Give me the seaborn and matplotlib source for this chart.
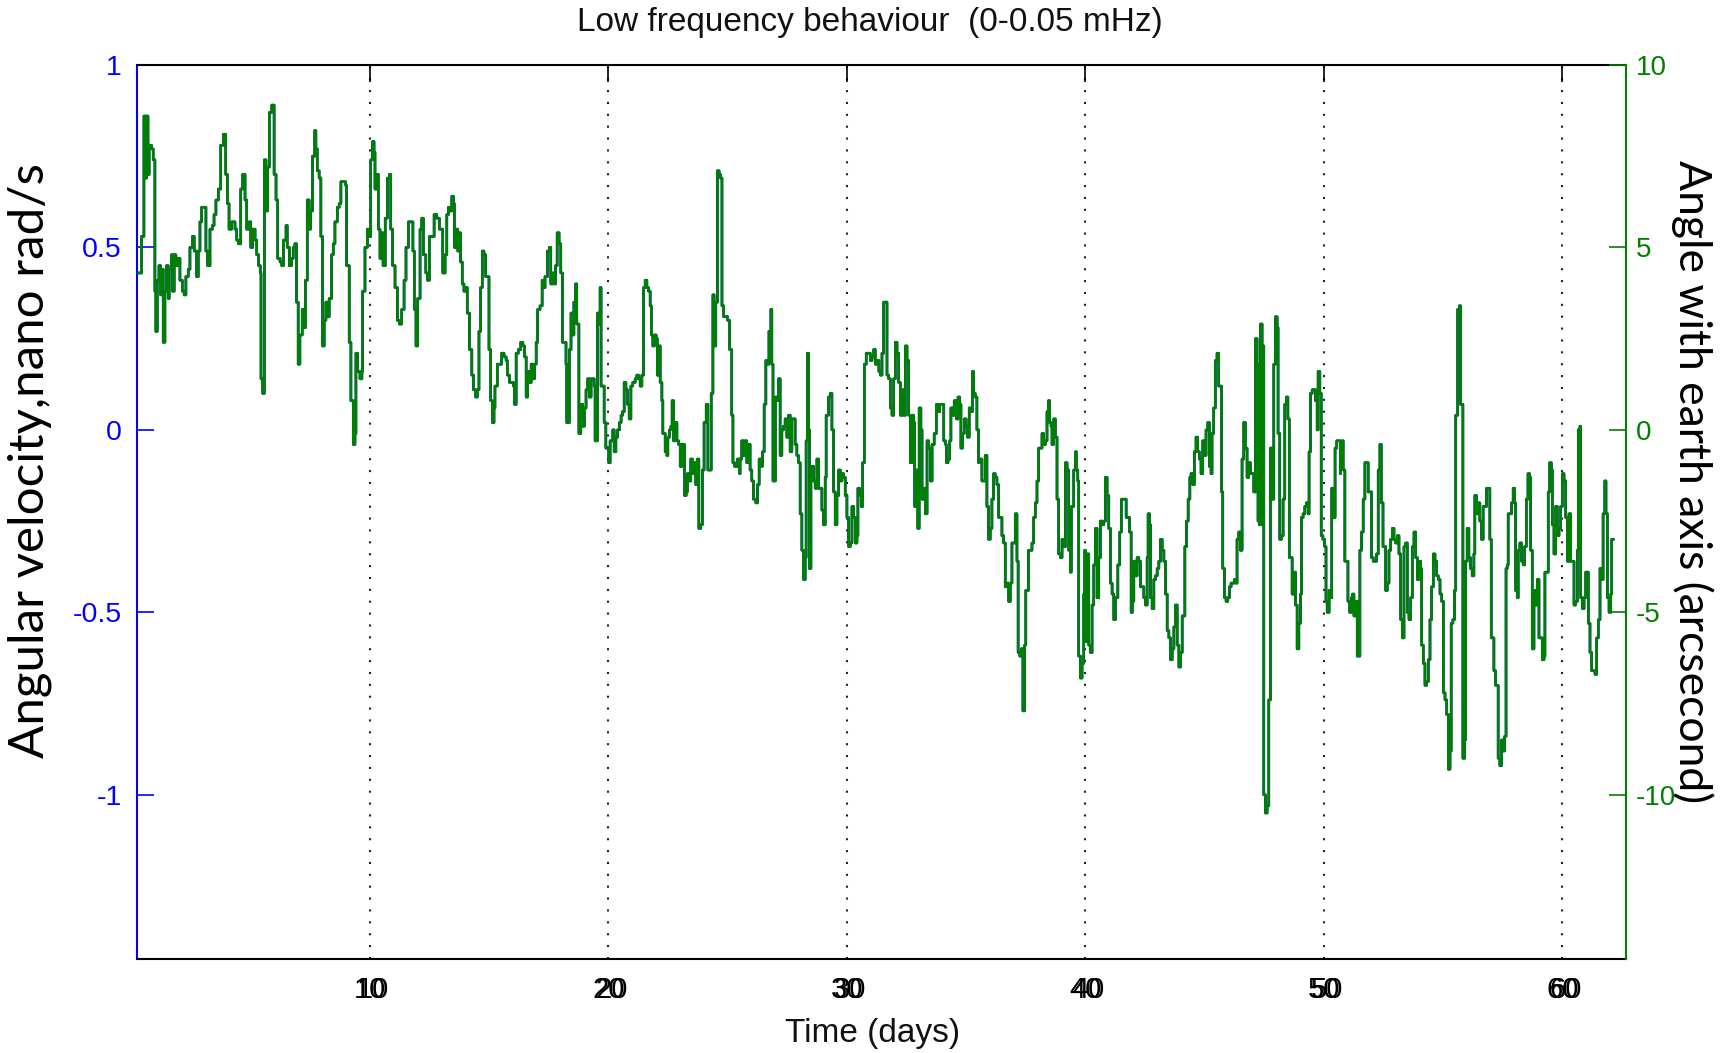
import matplotlib
matplotlib.use("Agg")
import matplotlib.pyplot as plt
import matplotlib.transforms as mtransforms
import seaborn as sns
import pandas as pd

# ---- data (time in days, angular velocity in nano rad/s) ----
days = [
    0.24, 0.28, 0.42, 0.52, 0.58, 0.63, 0.69, 0.74, 0.84, 0.91, 0.98, 1.02, 1.08, 1.15, 1.22, 1.26,
    1.33, 1.40, 1.47, 1.54, 1.58, 1.68, 1.72, 1.79, 1.86, 1.93, 2.03, 2.13, 2.21, 2.28, 2.38, 2.45,
    2.55, 2.63, 2.73, 2.80, 2.87, 2.94, 3.04, 3.12, 3.19, 3.29, 3.39, 3.46, 3.54, 3.64, 3.74, 3.85,
    3.95, 4.02, 4.09, 4.20, 4.34, 4.41, 4.48, 4.58, 4.66, 4.76, 4.83, 4.94, 5.00, 5.08, 5.18, 5.25,
    5.33, 5.40, 5.43, 5.50, 5.57, 5.64, 5.71, 5.78, 5.88, 5.98, 6.06, 6.13, 6.23, 6.30, 6.37, 6.48,
    6.53, 6.62,
    6.71, 6.78, 6.85, 6.92, 6.99, 7.06, 7.16, 7.23, 7.29, 7.37, 7.45, 7.51, 7.59, 7.68, 7.73, 7.79,
    7.87, 7.94, 8.01, 8.08, 8.15, 8.22, 8.29, 8.39, 8.46, 8.53, 8.63, 8.71, 8.78, 8.88, 8.98, 9.02,
    9.13, 9.20, 9.30, 9.37, 9.41, 9.48, 9.58, 9.66, 9.69, 9.79, 9.89, 9.97, 10.03, 10.10, 10.17, 10.21,
    10.28, 10.35, 10.42, 10.48, 10.55, 10.64, 10.73, 10.81, 10.87, 10.95, 11.05, 11.15, 11.23, 11.33,
    11.43, 11.51, 11.61, 11.71, 11.80, 11.86, 11.93, 12.00, 12.10, 12.17, 12.24, 12.34, 12.41, 12.49,
    12.59, 12.69, 12.80, 12.91,
    12.98, 13.05, 13.15, 13.22, 13.29, 13.36, 13.43, 13.50, 13.54, 13.61, 13.68, 13.73, 13.80, 13.87,
    13.94, 14.01, 14.08, 14.17, 14.27, 14.34, 14.43, 14.50, 14.57, 14.64, 14.71, 14.78, 14.85, 14.92,
    14.99, 15.06, 15.13, 15.20, 15.24, 15.34, 15.42, 15.52, 15.62, 15.71, 15.76, 15.85, 15.94, 16.01,
    16.06, 16.13, 16.22, 16.32, 16.41, 16.48, 16.55, 16.61, 16.69, 16.76, 16.83, 16.90, 16.97, 17.03,
    17.13, 17.22, 17.27, 17.34, 17.44, 17.52, 17.58, 17.66, 17.72, 17.78, 17.85, 17.93, 18.00, 18.07,
    18.15, 18.22, 18.25, 18.32, 18.36, 18.43, 18.50, 18.55, 18.62, 18.67, 18.74, 18.76, 18.84, 18.92,
    18.99, 19.06, 19.13, 19.20,
    19.23, 19.27, 19.34, 19.40, 19.44, 19.51, 19.54, 19.61, 19.65, 19.69, 19.76, 19.82, 19.89, 19.97,
    20.01, 20.07, 20.14, 20.18, 20.24, 20.31, 20.38, 20.46, 20.53, 20.59, 20.66, 20.73, 20.80, 20.87,
    20.94, 21.02, 21.12, 21.19, 21.26, 21.33, 21.40, 21.47, 21.54, 21.61, 21.68, 21.75, 21.80, 21.86,
    21.93, 22.00, 22.05, 22.11, 22.17, 22.24, 22.28, 22.38, 22.45, 22.49, 22.56, 22.62, 22.67, 22.73,
    22.80, 22.87, 22.94, 23.01, 23.08, 23.15, 23.19, 23.26, 23.31, 23.38, 23.45, 23.52, 23.59, 23.66,
    23.73, 23.79, 23.87, 23.94, 24.01, 24.10, 24.17, 24.24, 24.31, 24.38, 24.43, 24.50, 24.57, 24.64,
    24.70, 24.76, 24.83, 24.90, 25.00, 25.08, 25.17, 25.22, 25.29, 25.36, 25.41, 25.50,
    25.52, 25.59, 25.66, 25.73, 25.80, 25.87, 25.94, 26.01, 26.08, 26.18, 26.25, 26.32, 26.39, 26.46,
    26.53, 26.60, 26.67, 26.73, 26.81, 26.85, 26.90, 26.97, 27.00, 27.06, 27.13, 27.20, 27.27, 27.34,
    27.41, 27.48, 27.55, 27.62, 27.69, 27.76, 27.83, 27.90, 27.97, 28.04, 28.11, 28.18, 28.25, 28.29,
    28.34, 28.39, 28.43, 28.49, 28.53, 28.60, 28.67, 28.74, 28.81, 28.88, 28.95, 29.02, 29.09, 29.13,
    29.23, 29.30, 29.37, 29.44, 29.51, 29.58, 29.65, 29.72, 29.79, 29.86, 29.93, 30.00, 30.07, 30.14,
    30.21, 30.28, 30.35, 30.42, 30.46, 30.53, 30.60, 30.66, 30.73, 30.81, 30.90, 30.98, 31.05, 31.12,
    31.19, 31.27, 31.34, 31.40, 31.47, 31.54, 31.61, 31.68, 31.75,
    31.82, 31.89, 31.96, 32.03, 32.10, 32.17, 32.24, 32.31, 32.38, 32.45, 32.52, 32.59, 32.66, 32.73,
    32.80, 32.84, 32.91, 32.97, 33.03, 33.10, 33.15, 33.22, 33.29, 33.36, 33.43, 33.50, 33.57, 33.66,
    33.75, 33.82, 33.89, 33.99, 34.06, 34.13, 34.17, 34.24, 34.31, 34.36, 34.45, 34.50, 34.59, 34.66,
    34.73, 34.78, 34.85, 34.92, 35.00, 35.06, 35.13, 35.20, 35.26, 35.31, 35.38, 35.45, 35.52, 35.59,
    35.66, 35.73, 35.80, 35.87, 35.94, 36.01, 36.08, 36.15, 36.22, 36.29, 36.36, 36.43, 36.50, 36.57,
    36.64, 36.71, 36.78, 36.85, 36.92, 36.99, 37.06, 37.13, 37.18, 37.25, 37.31, 37.38, 37.45, 37.50,
    37.57, 37.61, 37.69, 37.76, 37.83, 37.90, 37.97, 38.04,
    38.11, 38.18, 38.25, 38.32, 38.39, 38.45, 38.50, 38.56, 38.60, 38.67, 38.74, 38.81, 38.88, 38.95,
    39.02, 39.09, 39.16, 39.23, 39.30, 39.37, 39.41, 39.48, 39.51, 39.58, 39.62, 39.68, 39.72, 39.79,
    39.86, 39.93, 39.97, 40.00, 40.07, 40.14, 40.21, 40.28, 40.35, 40.42, 40.49, 40.56, 40.63, 40.70,
    40.77, 40.84, 40.91, 40.98, 41.05, 41.12, 41.19, 41.26, 41.36, 41.44, 41.51, 41.61, 41.71, 41.78,
    41.85, 41.92, 41.97, 42.03, 42.10, 42.17, 42.24, 42.31, 42.38, 42.45, 42.52, 42.59, 42.63, 42.69,
    42.73, 42.80, 42.87, 42.94, 43.01, 43.08, 43.15, 43.22, 43.29, 43.36, 43.43, 43.50, 43.57, 43.64,
    43.71, 43.78, 43.85, 43.92, 43.99, 44.06, 44.13, 44.17, 44.24, 44.31, 44.38,
    44.43, 44.50, 44.57, 44.64, 44.71, 44.78, 44.85, 44.92, 44.99, 45.06, 45.13, 45.20, 45.27, 45.31,
    45.38, 45.45, 45.52, 45.59, 45.66, 45.71, 45.76, 45.83, 45.90, 45.97, 46.04, 46.11, 46.18, 46.25,
    46.32, 46.36, 46.43, 46.50, 46.57, 46.64, 46.71, 46.78, 46.85, 46.92, 46.99, 47.06, 47.13, 47.20,
    47.24, 47.29, 47.34, 47.41, 47.45, 47.48, 47.55, 47.62, 47.69, 47.73, 47.76, 47.83, 47.90, 47.97,
    48.04, 48.08, 48.15, 48.22, 48.29, 48.36, 48.43, 48.49, 48.55, 48.60, 48.67, 48.74, 48.81, 48.88,
    48.95, 49.02, 49.06, 49.13, 49.20, 49.27, 49.34, 49.38, 49.44, 49.51, 49.58, 49.65, 49.72, 49.76,
    49.83, 49.89, 49.96, 50.03, 50.09, 50.14, 50.22, 50.29, 50.33, 50.40, 50.47, 50.54, 50.61, 50.69,
    50.70, 50.77, 50.81, 50.88, 50.95, 51.01, 51.08, 51.15, 51.20, 51.26, 51.33, 51.40, 51.47, 51.51,
    51.58, 51.65, 51.72, 51.79, 51.86, 51.93, 52.00, 52.07, 52.14, 52.21, 52.28, 52.35, 52.41, 52.48,
    52.55, 52.59, 52.66, 52.73, 52.80, 52.87, 52.94, 53.01, 53.08, 53.15, 53.22, 53.29, 53.36, 53.43,
    53.50, 53.57, 53.64, 53.71, 53.78, 53.85, 53.92, 53.99, 54.06, 54.10, 54.17, 54.24, 54.31, 54.38,
    54.45, 54.52, 54.59, 54.66, 54.73, 54.80, 54.87, 54.94, 55.01, 55.08, 55.15, 55.22, 55.29, 55.34,
    55.41, 55.48, 55.53, 55.61, 55.68, 55.73, 55.80, 55.83, 55.90, 55.94, 56.01, 56.08, 56.15, 56.22,
    56.29, 56.33, 56.40, 56.47, 56.54, 56.61, 56.68, 56.75, 56.82, 56.89, 56.96,
    57.02, 57.09, 57.13, 57.20, 57.27, 57.31, 57.38, 57.45, 57.52, 57.58, 57.64, 57.69, 57.73, 57.80,
    57.87, 57.94, 58.00, 58.04, 58.11, 58.15, 58.22, 58.29, 58.36, 58.42, 58.49, 58.56, 58.63, 58.67,
    58.74, 58.81, 58.88, 58.95, 59.02, 59.09, 59.16, 59.23, 59.27, 59.34, 59.41, 59.47, 59.54, 59.58,
    59.65, 59.72, 59.79, 59.86, 59.93, 60.00, 60.07, 60.14, 60.21, 60.28, 60.35, 60.42, 60.49, 60.56,
    60.63, 60.67, 60.74, 60.77, 60.84, 60.91, 60.98, 61.05, 61.09, 61.16, 61.23, 61.30, 61.37, 61.44,
    61.51, 61.58, 61.64, 61.71, 61.78, 61.83, 61.89, 61.96, 62.03, 62.07, 62.15,
]

velocity = [
    0.43, 0.43, 0.53, 0.86, 0.69, 0.86, 0.70, 0.78, 0.77, 0.74, 0.38, 0.27, 0.41, 0.45, 0.37, 0.44,
    0.24, 0.38, 0.45, 0.36, 0.44, 0.48, 0.38, 0.48, 0.45, 0.47, 0.41, 0.38, 0.37, 0.42, 0.44, 0.50,
    0.53, 0.49, 0.42, 0.49, 0.57, 0.61, 0.61, 0.49, 0.45, 0.55, 0.56, 0.59, 0.63, 0.66, 0.78, 0.81,
    0.70, 0.62, 0.55, 0.57, 0.55, 0.52, 0.51, 0.66, 0.70, 0.63, 0.55, 0.57, 0.50, 0.55, 0.52, 0.48,
    0.45, 0.43, 0.14, 0.10, 0.74, 0.60, 0.72, 0.87, 0.89, 0.70, 0.63, 0.47, 0.46, 0.45, 0.52, 0.56,
    0.50, 0.45,
    0.47, 0.50, 0.51, 0.35, 0.18, 0.26, 0.33, 0.28, 0.41, 0.63, 0.55, 0.60, 0.75, 0.82, 0.77, 0.71,
    0.69, 0.53, 0.23, 0.30, 0.35, 0.31, 0.36, 0.48, 0.51, 0.57, 0.61, 0.62, 0.68, 0.68, 0.67, 0.45,
    0.24, 0.08, -0.04, -0.01, 0.21, 0.16, 0.14, 0.16, 0.38, 0.50, 0.55, 0.53, 0.74, 0.79, 0.76, 0.66,
    0.70, 0.55, 0.47, 0.54, 0.45, 0.58, 0.69, 0.70, 0.55, 0.45, 0.39, 0.30, 0.29, 0.33,
    0.41, 0.50, 0.57, 0.57, 0.49, 0.33, 0.23, 0.36, 0.55, 0.58, 0.48, 0.43, 0.41, 0.53,
    0.53, 0.59, 0.58, 0.55,
    0.55, 0.43, 0.48, 0.59, 0.61, 0.60, 0.64, 0.62, 0.50, 0.55, 0.49, 0.54, 0.46, 0.40,
    0.38, 0.39, 0.32, 0.22, 0.15, 0.11, 0.09, 0.11, 0.27, 0.39, 0.49, 0.48, 0.42, 0.42,
    0.22, 0.08, 0.02, 0.06, 0.12, 0.18, 0.18, 0.21, 0.20, 0.19, 0.15, 0.13, 0.13, 0.12,
    0.07, 0.21, 0.22, 0.24, 0.23, 0.20, 0.09, 0.16, 0.13, 0.18, 0.14, 0.18, 0.24, 0.33,
    0.34, 0.41, 0.39, 0.42, 0.49, 0.50, 0.40, 0.43, 0.40, 0.45, 0.54, 0.51, 0.43, 0.24,
    0.24, 0.18, 0.02, 0.02, 0.22, 0.32, 0.26, 0.35, 0.40, 0.29, 0.29, -0.01, 0.07, 0.01,
    0.06, 0.11, 0.14, 0.09,
    0.09, 0.14, 0.14, 0.12, -0.03, -0.03, 0.32, 0.29, 0.39, 0.12, 0.12, 0.02, -0.05, -0.05,
    -0.09, -0.03, -0.03, 0.00, -0.06, -0.02, 0.00, 0.02, 0.04, 0.05, 0.13, 0.11, 0.07, 0.03,
    0.12, 0.13, 0.14, 0.15, 0.14, 0.12, 0.15, 0.39, 0.41, 0.39, 0.38, 0.34, 0.26, 0.23,
    0.26, 0.25, 0.15, 0.23, 0.13, 0.08, -0.01, -0.06, -0.07, -0.02, 0.00, 0.01, 0.08, -0.03,
    0.02, -0.03, -0.04, -0.10, -0.04, -0.04, -0.18, -0.17, -0.12, -0.14, -0.08, -0.12, -0.09, -0.15,
    -0.08, -0.27, -0.26, -0.11, 0.02, 0.07, -0.11, -0.11, 0.10, 0.37, 0.23, 0.35, 0.71, 0.70,
    0.69, 0.34, 0.31, 0.31, 0.30, 0.22, 0.04, -0.09, -0.10, -0.10, -0.08, -0.12,
    -0.08, -0.03, -0.07, -0.03, -0.09, -0.04, -0.11, -0.14, -0.19, -0.20, -0.15, -0.08, -0.10, -0.06,
    0.07, 0.19, 0.18, 0.27, 0.33, 0.18, -0.14, -0.14, 0.09, 0.08, 0.14, -0.07, 0.00, 0.01,
    0.03, -0.02, 0.04, -0.06, 0.03, 0.03, -0.04, -0.07, -0.09, -0.23, -0.33, -0.41, -0.35, -0.03,
    0.21, 0.00, -0.38, -0.14, -0.10, -0.14, -0.16, -0.08, -0.16, -0.16, -0.22, -0.26, -0.13, 0.04,
    0.09, 0.10, 0.00, -0.17, -0.26, -0.18, -0.11, -0.14, -0.12, -0.13, -0.18, -0.24, -0.32, -0.31,
    -0.21, -0.24, -0.31, -0.29, -0.16, -0.18, -0.21, -0.09, 0.18, 0.21, 0.21, 0.19, 0.20, 0.22,
    0.18, 0.19, 0.16, 0.15, 0.21, 0.35, 0.35, 0.15, 0.14,
    0.06, 0.04, 0.14, 0.24, 0.21, 0.13, 0.04, 0.11, 0.04, 0.23, 0.19, 0.04, -0.09, 0.04,
    0.02, -0.21, -0.11, -0.27, 0.06, 0.00, -0.19, -0.16, -0.23, -0.03, -0.05, -0.14, -0.04, -0.01,
    0.07, 0.05, 0.07, 0.07, -0.03, -0.04, -0.09, -0.08, -0.03, 0.06, 0.04, 0.08, 0.03, 0.09,
    0.07, -0.05, -0.01, 0.03, 0.01, -0.02, 0.06, 0.05, 0.16, 0.10, 0.09, 0.00, -0.09, -0.08,
    -0.14, -0.14, -0.07, -0.21, -0.30, -0.27, -0.19, -0.12, -0.13, -0.15, -0.24, -0.24, -0.29, -0.31,
    -0.43, -0.42, -0.47, -0.42, -0.31, -0.31, -0.23, -0.36, -0.61, -0.62, -0.60, -0.77, -0.59, -0.44,
    -0.44, -0.33, -0.33, -0.31, -0.24, -0.20, -0.14, -0.05,
    -0.05, -0.01, -0.04, -0.03, 0.05, 0.08, 0.02, 0.01, -0.04, 0.03, -0.02, -0.19, -0.34, -0.35,
    -0.30, -0.32, -0.09, -0.11, -0.33, -0.39, -0.21, -0.21, -0.11, -0.06, -0.11, -0.14, -0.62, -0.68,
    -0.64, -0.45, -0.33, -0.58, -0.34, -0.59, -0.61, -0.48, -0.37, -0.27, -0.46, -0.35, -0.25, -0.26,
    -0.25, -0.13, -0.18, -0.27, -0.42, -0.45, -0.52, -0.46, -0.37, -0.28, -0.19, -0.19, -0.24, -0.24,
    -0.28, -0.50, -0.47, -0.36, -0.40, -0.35, -0.36, -0.43, -0.43, -0.46, -0.48, -0.35, -0.23, -0.26,
    -0.46, -0.49, -0.41, -0.40, -0.38, -0.36, -0.30, -0.33, -0.36, -0.45, -0.55, -0.57, -0.63, -0.60,
    -0.54, -0.48, -0.59, -0.65, -0.61, -0.51, -0.51, -0.32, -0.25, -0.19, -0.13,
    -0.12, -0.15, -0.06, -0.02, -0.06, -0.08, -0.12, -0.03, -0.07, 0.00, 0.02, -0.10, -0.12, -0.01,
    0.06, 0.19, 0.21, 0.12, 0.12, -0.17, -0.38, -0.46, -0.47, -0.46, -0.43, -0.42, -0.42, -0.41,
    -0.42, -0.30, -0.28, -0.33, -0.08, 0.02, -0.05, -0.13, -0.09, -0.12, -0.12, -0.17, 0.25, 0.18,
    -0.25, -0.26, 0.29, -0.26, 0.23, -1.00, -1.05, -1.03, -0.74, -0.74, -0.05, -0.19, 0.18, 0.31,
    0.28, -0.01, -0.30, -0.29, -0.19, 0.07, 0.09, 0.03, -0.35, -0.35, -0.45, -0.39, -0.48, -0.60,
    -0.53, -0.45, -0.24, -0.23, -0.21, -0.20, -0.23, -0.06, 0.10, 0.11, 0.11, 0.08, 0.00, 0.16,
    0.10, -0.29, -0.30, -0.32, -0.47, -0.50, -0.44, -0.46, -0.16, -0.24, -0.05, -0.03, -0.03, -0.12,
    -0.04, -0.03, -0.11, -0.36, -0.36, -0.47, -0.50, -0.46, -0.45, -0.51, -0.47, -0.62, -0.62, -0.33,
    -0.28, -0.19, -0.09, -0.09, -0.17, -0.17, -0.35, -0.36, -0.36, -0.34, -0.11, -0.04, -0.20, -0.32,
    -0.32, -0.44, -0.42, -0.33, -0.30, -0.27, -0.30, -0.31, -0.29, -0.34, -0.52, -0.57, -0.32, -0.31,
    -0.50, -0.52, -0.46, -0.32, -0.28, -0.35, -0.41, -0.36, -0.38, -0.59, -0.64, -0.70, -0.69, -0.63,
    -0.52, -0.43, -0.34, -0.36, -0.40, -0.41, -0.45, -0.47, -0.72, -0.74, -0.78, -0.93, -0.88, -0.53,
    -0.52, -0.44, 0.04, 0.33, 0.34, 0.07, 0.07, -0.90, -0.85, -0.36, -0.27, -0.35, -0.38, -0.40,
    -0.34, -0.18, -0.23, -0.20, -0.25, -0.30, -0.21, -0.21, -0.16, -0.16, -0.30,
    -0.57, -0.57, -0.66, -0.70, -0.70, -0.90, -0.92, -0.85, -0.88, -0.84, -0.38, -0.37, -0.23, -0.23,
    -0.20, -0.16, -0.20, -0.44, -0.46, -0.33, -0.31, -0.36, -0.37, -0.32, -0.19, -0.12, -0.13, -0.33,
    -0.60, -0.44, -0.48, -0.41, -0.57, -0.57, -0.63, -0.62, -0.39, -0.39, -0.17, -0.09, -0.11, -0.26,
    -0.34, -0.21, -0.29, -0.27, -0.21, -0.12, -0.14, -0.24, -0.36, -0.23, -0.36, -0.36, -0.48, -0.47,
    -0.33, 0.00, 0.01, -0.46, -0.49, -0.46, -0.39, -0.39, -0.53, -0.61, -0.66, -0.66, -0.67, -0.57,
    -0.52, -0.38, -0.41, -0.23, -0.14, -0.23, -0.46, -0.50, -0.45, -0.30, -0.30,
]

ARCSEC_PER_NANORAD = 10.0   # right axis is the same trace in arcseconds

x_ticks = [10, 20, 30, 40, 50, 60]
x_tick_labels = ["10", "20", "30", "40", "50", "60"]
left_ticks = [-1, -0.5, 0, 0.5, 1]
left_tick_labels = ["-1", "-0.5", "0", "0.5", "1"]
right_ticks = [-10, -5, 0, 5, 10]
right_tick_labels = ["-10", "-5", "0", "5", "10"]

title = "Low frequency behaviour  (0-0.05 mHz)"
xlabel = "Time (days)"
ylabel_left = "Angular velocity,nano rad/s"
ylabel_right = "Angle with earth axis (arcsecond)"

BLUE = (0.0, 0.0, 1.0)
GREEN = (0.0, 0.5, 0.0)

sns.set_theme(style="white")
plt.rcParams['font.family'] = ['Liberation Sans', 'DejaVu Sans']

fig = plt.figure(figsize=(17.32, 10.53), dpi=100)
ax = fig.add_axes([0.0791, 0.0893, 0.8597, 0.849])
ax2 = ax.twinx()

df = pd.DataFrame({
    "day": days,
    "vel": velocity,
    "angle": [v * ARCSEC_PER_NANORAD for v in velocity],
})

sns.lineplot(data=df, x="day", y="vel", ax=ax, color=BLUE, linewidth=1.9,
             drawstyle="steps-post", estimator=None, sort=False)
sns.lineplot(data=df, x="day", y="angle", ax=ax2, color=GREEN, linewidth=1.9,
             drawstyle="steps-post", estimator=None, sort=False)

ax.set_xlim(0.23, 62.67)
ax.set_ylim(-1.45, 1.0)
ax2.set_ylim(-14.5, 10.0)

# x axis
XTICK_PAD = 12
ax.set_xticks(x_ticks)
ax.set_xticklabels(x_tick_labels)
ax.tick_params(axis='x', direction='in', length=12, width=1.2, colors='black',
               labelsize=21, pad=XTICK_PAD, top=True)
# the reference shows a second, slightly shifted copy of each x tick label (two overlaid axes)
dup_trans = ax.get_xaxis_transform() + mtransforms.ScaledTranslation(
    3 / 100, -XTICK_PAD / 72, fig.dpi_scale_trans)
for xv, txt in zip(x_ticks, x_tick_labels):
    ax.text(xv, 0, txt, transform=dup_trans, ha='center', va='top', fontsize=21,
            color='black', clip_on=False)
ax.xaxis.grid(True, linestyle=(0, (1, 4.7)), color='#222222', linewidth=1.5)
ax.yaxis.grid(False)

# left y axis
ax.set_yticks(left_ticks)
ax.set_yticklabels(left_tick_labels)
ax.tick_params(axis='y', direction='in', length=12, width=1.2, colors=BLUE,
               labelsize=20.5, pad=11, left=True, right=False)

# right y axis
ax2.set_yticks(right_ticks)
ax2.set_yticklabels(right_tick_labels)
ax2.tick_params(axis='y', direction='in', length=12, width=1.2, colors=GREEN,
                labelsize=20, pad=7, right=True, left=False)
ax2.grid(False)

for side in ['top', 'bottom']:
    ax.spines[side].set_color('black')
    ax.spines[side].set_linewidth(1.5)
ax.spines['left'].set_color(BLUE)
ax.spines['left'].set_linewidth(1.5)
ax.spines['right'].set_visible(False)
ax2.spines['left'].set_visible(False)
ax2.spines['top'].set_visible(False)
ax2.spines['bottom'].set_visible(False)
ax2.spines['right'].set_color(GREEN)
ax2.spines['right'].set_linewidth(1.5)

# labels
ax.set_xlabel(xlabel, fontsize=24, color='#111111')
ax.xaxis.set_label_coords(0.494, -0.083)
ax.xaxis.label.set_verticalalignment('center')

ax.set_ylabel(ylabel_left, fontsize=35.5, color='black', family=['Lato', 'DejaVu Sans'])
ax.yaxis.set_label_coords(-0.072, 0.557)
ax.yaxis.label.set_verticalalignment('center')

ax2.set_ylabel(ylabel_right, fontsize=32, color='black', rotation=270,
               family=['Lato', 'DejaVu Sans'])
ax2.yaxis.set_label_coords(1.0443, 0.534)
ax2.yaxis.label.set_verticalalignment('center')

ax.text(0.492, 1.048, title, transform=ax.transAxes, ha='center', va='center',
        fontsize=24, color='#111111')

fig.savefig("out.png", dpi=100, facecolor='white')
